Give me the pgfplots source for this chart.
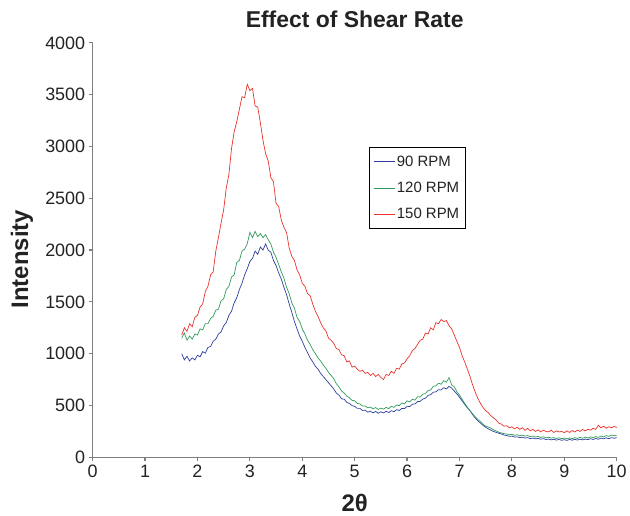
\documentclass[border=0pt]{standalone}
\usepackage{pgfplots}
\pgfplotsset{compat=1.18}
\usepackage{pgfplotstable}
\usepackage{fontspec}
\setmainfont{Liberation Sans}
\definecolor{cblue}{HTML}{2E3D9E}
\definecolor{cgreen}{HTML}{2E9B5C}
\definecolor{cred}{HTML}{E8332B}
\definecolor{cgray}{HTML}{7F7F7F}
\definecolor{ctext}{HTML}{222222}

\pgfplotstableread{
x y
1.70 1180
1.75 1250
1.80 1215
1.85 1290
1.90 1260
1.95 1350
2.00 1370
2.05 1450
2.10 1480
2.15 1600
2.20 1650
2.25 1760
2.30 1790
2.35 1990
2.40 2120
2.45 2260
2.50 2390
2.55 2600
2.60 2730
2.65 2980
2.70 3140
2.75 3240
2.80 3360
2.85 3480
2.90 3470
2.95 3600
3.00 3540
3.05 3560
3.10 3390
3.15 3380
3.20 3230
3.25 3060
3.30 2930
3.35 2860
3.40 2700
3.45 2660
3.50 2450
3.55 2420
3.60 2290
3.65 2220
3.70 2170
3.75 2020
3.80 1940
3.85 1900
3.90 1810
3.95 1760
4.00 1680
4.05 1650
4.10 1580
4.15 1560
4.20 1480
4.25 1410
4.30 1360
4.35 1300
4.40 1250
4.45 1220
4.50 1150
4.55 1130
4.60 1100
4.65 1050
4.70 1040
4.75 990
4.80 980
4.85 920
4.90 930
4.95 870
5.00 880
5.05 850
5.10 830
5.15 840
5.20 810
5.25 820
5.30 790
5.35 810
5.40 780
5.45 800
5.50 770
5.55 750
5.60 800
5.65 790
5.70 830
5.75 810
5.80 860
5.85 850
5.90 900
5.95 910
6.00 950
6.05 980
6.10 1030
6.15 1050
6.20 1090
6.25 1130
6.30 1140
6.35 1200
6.40 1190
6.45 1250
6.50 1230
6.55 1300
6.60 1290
6.65 1330
6.70 1310
6.75 1320
6.80 1270
6.85 1240
6.90 1180
6.95 1120
7.00 1060
7.05 980
7.10 920
7.15 850
7.20 780
7.25 700
7.30 630
7.35 570
7.40 520
7.45 480
7.50 450
7.55 430
7.60 400
7.65 380
7.70 360
7.75 330
7.80 320
7.85 300
7.90 305
7.95 285
8.00 295
8.05 275
8.10 290
8.15 270
8.20 285
8.25 260
8.30 280
8.35 255
8.40 270
8.45 250
8.50 265
8.55 245
8.60 262
8.65 250
8.70 245
8.75 262
8.80 240
8.85 255
8.90 245
8.95 250
9.00 238
9.05 255
9.10 240
9.15 258
9.20 245
9.25 262
9.30 250
9.35 268
9.40 255
9.45 270
9.50 262
9.55 280
9.60 270
9.65 310
9.70 285
9.75 300
9.80 280
9.85 295
9.90 285
9.95 298
10.00 288
}\redtab

\pgfplotstableread{
x y
1.70 1150
1.75 1200
1.80 1130
1.85 1170
1.90 1140
1.95 1190
2.00 1180
2.05 1240
2.10 1230
2.15 1290
2.20 1290
2.25 1340
2.30 1360
2.35 1420
2.40 1430
2.45 1510
2.50 1530
2.55 1620
2.60 1650
2.65 1740
2.70 1760
2.75 1880
2.80 1900
2.85 1990
2.90 2010
2.95 2060
3.00 2170
3.05 2120
3.10 2180
3.15 2130
3.20 2160
3.25 2120
3.30 2150
3.35 2100
3.40 2060
3.45 1980
3.50 1930
3.55 1860
3.60 1790
3.65 1730
3.70 1640
3.75 1580
3.80 1490
3.85 1440
3.90 1350
3.95 1310
4.00 1240
4.05 1190
4.10 1130
4.15 1090
4.20 1040
4.25 1000
4.30 960
4.35 930
4.40 890
4.45 860
4.50 820
4.55 790
4.60 760
4.65 710
4.70 680
4.75 640
4.80 620
4.85 590
4.90 575
4.95 550
5.00 545
5.05 520
5.10 515
5.15 495
5.20 495
5.25 478
5.30 485
5.35 468
5.40 480
5.45 462
5.50 475
5.55 465
5.60 482
5.65 470
5.70 492
5.75 482
5.80 505
5.85 498
5.90 525
5.95 515
6.00 545
6.05 535
6.10 560
6.15 552
6.20 585
6.25 580
6.30 610
6.35 615
6.40 645
6.45 650
6.50 685
6.55 690
6.60 715
6.65 705
6.70 740
6.75 725
6.80 770
6.85 700
6.90 680
6.95 635
7.00 600
7.05 560
7.10 520
7.15 485
7.20 450
7.25 420
7.30 390
7.35 365
7.40 345
7.45 320
7.50 300
7.55 292
7.60 280
7.65 265
7.70 255
7.75 242
7.80 235
7.85 228
7.90 225
7.95 218
8.00 222
8.05 212
8.10 218
8.15 208
8.20 214
8.25 204
8.30 210
8.35 200
8.40 205
8.45 196
8.50 202
8.55 192
8.60 198
8.65 188
8.70 194
8.75 186
8.80 190
8.85 182
8.90 188
8.95 180
9.00 186
9.05 178
9.10 188
9.15 180
9.20 190
9.25 182
9.30 192
9.35 184
9.40 194
9.45 186
9.50 198
9.55 190
9.60 200
9.65 192
9.70 205
9.75 198
9.80 210
9.85 202
9.90 215
9.95 208
10.00 214
}\greentab

\pgfplotstableread{
x y
1.70 1000
1.75 940
1.80 975
1.85 930
1.90 960
1.95 940
2.00 985
2.05 970
2.10 1020
2.15 1005
2.20 1060
2.25 1070
2.30 1120
2.35 1140
2.40 1190
2.45 1210
2.50 1270
2.55 1300
2.60 1370
2.65 1410
2.70 1490
2.75 1540
2.80 1620
2.85 1680
2.90 1760
2.95 1820
3.00 1890
3.05 1920
3.10 1990
3.15 1960
3.20 2030
3.25 2000
3.30 2060
3.35 2000
3.40 1980
3.45 1900
3.50 1850
3.55 1780
3.60 1720
3.65 1640
3.70 1570
3.75 1480
3.80 1400
3.85 1310
3.90 1240
3.95 1170
4.00 1120
4.05 1060
4.10 1010
4.15 960
4.20 920
4.25 880
4.30 850
4.35 810
4.40 780
4.45 750
4.50 720
4.55 690
4.60 660
4.65 620
4.70 600
4.75 565
4.80 560
4.85 530
4.90 520
4.95 498
5.00 492
5.05 472
5.10 472
5.15 452
5.20 455
5.25 435
5.30 445
5.35 428
5.40 442
5.45 425
5.50 440
5.55 428
5.60 445
5.65 432
5.70 450
5.75 440
5.80 460
5.85 452
5.90 472
5.95 470
6.00 492
6.05 490
6.10 512
6.15 515
6.20 538
6.25 540
6.30 562
6.35 570
6.40 598
6.45 605
6.50 628
6.55 632
6.60 652
6.65 650
6.70 672
6.75 660
6.80 685
6.85 668
6.90 640
6.95 612
7.00 580
7.05 545
7.10 510
7.15 478
7.20 450
7.25 412
7.30 380
7.35 352
7.40 330
7.45 308
7.50 290
7.55 275
7.60 262
7.65 250
7.70 240
7.75 232
7.80 225
7.85 215
7.90 210
7.95 202
8.00 205
8.05 195
8.10 198
8.15 190
8.20 194
8.25 186
8.30 190
8.35 180
8.40 186
8.45 178
8.50 182
8.55 175
8.60 180
8.65 172
8.70 176
8.75 168
8.80 174
8.85 166
8.90 172
8.95 164
9.00 170
9.05 163
9.10 172
9.15 165
9.20 174
9.25 166
9.30 175
9.35 168
9.40 176
9.45 170
9.50 180
9.55 172
9.60 182
9.65 174
9.70 185
9.75 178
9.80 188
9.85 180
9.90 190
9.95 184
10.00 190
}\bluetab

\begin{document}
\begin{tikzpicture}
\begin{axis}[
  scale only axis,
  width=526pt, height=416pt,
  xmin=0, xmax=10, ymin=0, ymax=4000,
  axis x line*=bottom, axis y line*=left,
  axis line style={cgray, line width=1.2pt},
  xtick={0,1,...,10}, ytick={0,500,...,4000},
  tick align=outside, major tick length=4pt,
  tick style={cgray, line width=1.2pt},
  /pgf/number format/assume math mode=true,
  /pgf/number format/set thousands separator={},
  tick label style={font=\fontsize{18}{18}\selectfont, text=ctext},
  clip=false,
  title={\textbf{Effect of Shear Rate}},
  title style={at={(axis description cs:0.5,1.043)}, anchor=center, font=\fontsize{23}{23}\selectfont, text=ctext},
  xlabel={\textbf{2θ}},
  xlabel style={at={(axis description cs:0.5,-0.1106)}, anchor=center, font=\fontsize{24}{24}\selectfont, text=ctext},
  ylabel={\textbf{Intensity}},
  ylabel style={at={(axis description cs:-0.135,0.478)}, anchor=center, font=\fontsize{24}{24}\selectfont, text=ctext},
  legend style={at={(axis description cs:0.527,0.748)}, anchor=north west,
    font=\fontsize{15}{15}\selectfont, draw=black, line width=0.8pt,
    row sep=10.5pt, inner xsep=4pt, inner ysep=6pt, text=ctext},
  legend cell align=left,
  legend image code/.code={\draw[#1, line width=0.8pt] (0pt,0pt) -- (21pt,0pt);},
]
\path[draw=none] (axis description cs:-0.1768,-0.1346) rectangle (axis description cs:1.0209,1.1034);
\addplot[cblue, line width=0.7pt] table[x=x,y=y] {\bluetab};
\addlegendentry{90 RPM}
\addplot[cgreen, line width=0.7pt] table[x=x,y=y] {\greentab};
\addlegendentry{120 RPM}
\addplot[cred, line width=0.7pt] table[x=x,y=y] {\redtab};
\addlegendentry{150 RPM}
\end{axis}
\end{tikzpicture}
\end{document}
